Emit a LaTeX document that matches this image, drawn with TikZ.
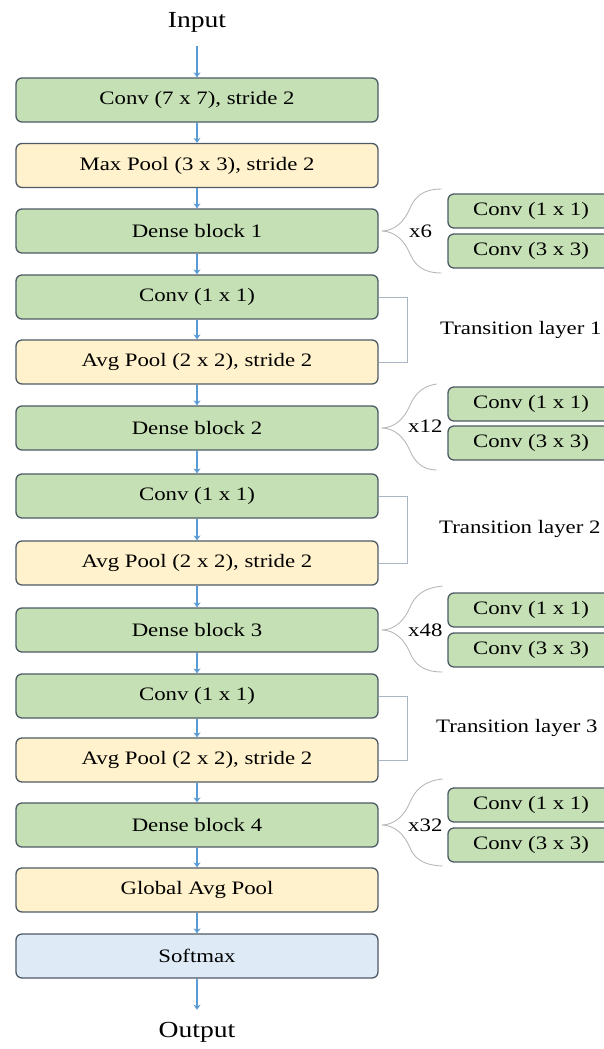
\documentclass[tikz,border=0pt]{standalone}
\usepackage{fontspec}
\setmainfont[FakeStretch=1.2]{Liberation Serif}
\usetikzlibrary{arrows.meta}

\definecolor{LayerGreen}{HTML}{C5E0B4}
\definecolor{LayerYellow}{HTML}{FFF2CC}
\definecolor{LayerBlue}{HTML}{DEEBF7}
\definecolor{LayerBorder}{HTML}{4E5A66}
\definecolor{FlowBlue}{HTML}{5B9BD5}
\definecolor{BracketGray}{HTML}{A8B6C4}
\definecolor{BraceGray}{HTML}{B8B8B8}

\tikzset{
	layer/.style={draw=LayerBorder, line width=1.3pt, rounded corners=6pt, inner sep=0pt,
		minimum width=362pt, minimum height=44pt, font=\fontsize{19}{22}\selectfont},
	convLayer/.style={layer, fill=LayerGreen},
	poolLayer/.style={layer, fill=LayerYellow},
	outLayer/.style={layer, fill=LayerBlue},
	subLayer/.style={layer, fill=LayerGreen, minimum width=166pt, minimum height=34pt},
	flow/.style={draw=FlowBlue, line width=1.3pt, -{Stealth[length=5pt,width=7pt]}},
	bracket/.style={draw=BracketGray, line width=1pt},
	brace/.style={draw=BraceGray, line width=0.9pt},
	note/.style={inner sep=0pt, font=\fontsize{19}{22}\selectfont},
	ioLabel/.style={inner sep=0pt, font=\fontsize{23}{26}\selectfont}
}

\begin{document}
\begin{tikzpicture}[x=1pt, y=-1pt]
		\useasboundingbox (0,0) rectangle (603,1049);
		
		\node[ioLabel] (Input) at (197,22) {Input};
		
		\node[convLayer] (Conv0) at (197,100) {Conv (7 x 7), stride 2};
		\node[poolLayer] (Pool0) at (197,165.5) {Max Pool (3 x 3), stride 2};
		\node[convLayer] (Dense1) at (197,231) {Dense block 1};
		\node[convLayer] (Conv1) at (197,297) {Conv (1 x 1)};
		\node[poolLayer] (Pool1) at (197,362) {Avg Pool (2 x 2), stride 2};
		\node[convLayer] (Dense2) at (197,428) {Dense block 2};
		\node[convLayer] (Conv2) at (197,496) {Conv (1 x 1)};
		\node[poolLayer] (Pool2) at (197,563) {Avg Pool (2 x 2), stride 2};
		\node[convLayer] (Dense3) at (197,630) {Dense block 3};
		\node[convLayer] (Conv3) at (197,696) {Conv (1 x 1)};
		\node[poolLayer] (Pool3) at (197,760) {Avg Pool (2 x 2), stride 2};
		\node[convLayer] (Dense4) at (197,825) {Dense block 4};
		\node[poolLayer] (GlobalPool) at (197,890) {Global Avg Pool};
		\node[outLayer] (Softmax) at (197,956) {Softmax};
		
		\node[ioLabel] (Output) at (197,1032) {Output};
		
		% main flow
		\draw[flow, shorten <=14pt] (Input) -- (Conv0);
		\draw[flow] (Conv0) -- (Pool0);
		\draw[flow] (Pool0) -- (Dense1);
		\draw[flow] (Dense1) -- (Conv1);
		\draw[flow] (Conv1) -- (Pool1);
		\draw[flow] (Pool1) -- (Dense2);
		\draw[flow] (Dense2) -- (Conv2);
		\draw[flow] (Conv2) -- (Pool2);
		\draw[flow] (Pool2) -- (Dense3);
		\draw[flow] (Dense3) -- (Conv3);
		\draw[flow] (Conv3) -- (Pool3);
		\draw[flow] (Pool3) -- (Dense4);
		\draw[flow] (Dense4) -- (GlobalPool);
		\draw[flow] (GlobalPool) -- (Softmax);
		\draw[flow, shorten >=12pt] (Softmax) -- (Output);
		
		% dense block contents
		\node[subLayer] (Dense1a) at (531,211) {Conv (1 x 1)};
		\node[subLayer] (Dense1b) at (531,251) {Conv (3 x 3)};
		\node[subLayer] (Dense2a) at (531,404) {Conv (1 x 1)};
		\node[subLayer] (Dense2b) at (531,443) {Conv (3 x 3)};
		\node[subLayer] (Dense3a) at (531,610) {Conv (1 x 1)};
		\node[subLayer] (Dense3b) at (531,650) {Conv (3 x 3)};
		\node[subLayer] (Dense4a) at (531,805) {Conv (1 x 1)};
		\node[subLayer] (Dense4b) at (531,845) {Conv (3 x 3)};
		
		\node[note, anchor=west] (Rep1) at (409,231) {x6};
		\node[note, anchor=west] (Rep2) at (408,426) {x12};
		\node[note, anchor=west] (Rep3) at (408,630) {x48};
		\node[note, anchor=west] (Rep4) at (408,825) {x32};
		
		\draw[brace, shift={(Dense1.east)}] (3,0) .. controls (16,0) and (26,-10) .. (31,-22) .. controls (36,-34) and (44,-42) .. (63,-42)
			(3,0) .. controls (16,0) and (26,10) .. (31,22) .. controls (36,34) and (44,42) .. (63,42);
		\draw[brace, shift={(Dense2.east)}] (3,0) .. controls (16,0) and (26,-10) .. (31,-22) .. controls (36,-34) and (44,-42) .. (58,-44)
			(3,0) .. controls (16,0) and (26,10) .. (31,22) .. controls (36,34) and (44,42) .. (58,42);
		\draw[brace, shift={(Dense3.east)}] (3,0) .. controls (16,0) and (26,-10) .. (31,-22) .. controls (36,-34) and (44,-42) .. (64,-44)
			(3,0) .. controls (16,0) and (26,10) .. (31,22) .. controls (36,34) and (44,42) .. (64,42);
		\draw[brace, shift={(Dense4.east)}] (3,0) .. controls (16,0) and (26,-10) .. (31,-22) .. controls (36,-34) and (44,-44) .. (64,-46)
			(3,0) .. controls (16,0) and (26,10) .. (31,22) .. controls (36,34) and (44,40) .. (64,41);
		
		% transition layers
		\draw[bracket] (Conv1.east) -- ++(29,0) |- (Pool1.east);
		\draw[bracket] (Conv2.east) -- ++(29,0) |- (Pool2.east);
		\draw[bracket] (Conv3.east) -- ++(29,0) |- (Pool3.east);
		
		\node[note, anchor=west] (Trans1) at (440,330) {Transition layer 1};
		\node[note, anchor=west] (Trans2) at (439,529) {Transition layer 2};
		\node[note, anchor=west] (Trans3) at (436,728) {Transition layer 3};
\end{tikzpicture}
\end{document}
